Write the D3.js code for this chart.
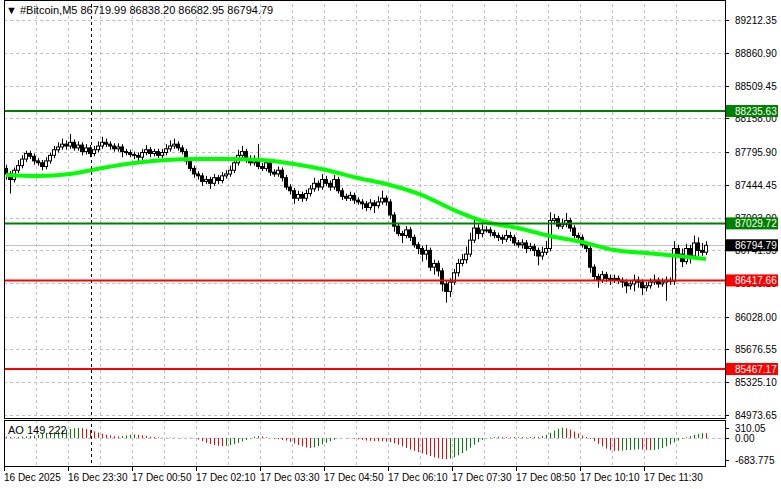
<!DOCTYPE html>
<html>
<head>
<meta charset="utf-8">
<script src="https://cdn.jsdelivr.net/npm/d3@7"></script>
<style>
  body { margin: 0; background: #fff; }
  text { font-family: "Liberation Sans", Arial, sans-serif; font-size: 10px; }
</style>
</head>
<body>
<svg width="781" height="489"></svg>
<script>
const width = 781,
  height = 489

// close prices, one per 5-minute candle (opens = previous close)
const closes = [
  87560, 87500, 87600, 87650, 87720, 87780, 87750, 87700,
  87680, 87640, 87700, 87760, 87820, 87850, 87880, 87860,
  87900, 87840, 87870, 87800, 87840, 87780, 87820, 87860,
  87900, 87880, 87860, 87830, 87850, 87800, 87790, 87770,
  87760, 87740, 87790, 87820, 87780, 87800, 87760, 87790,
  87830, 87860, 87880, 87840, 87800, 87700, 87620, 87560,
  87540, 87480, 87500, 87460, 87520, 87490, 87540, 87560,
  87600, 87680, 87760, 87800, 87720, 87680, 87700, 87640,
  87620, 87680, 87580, 87560, 87600, 87520, 87420, 87380,
  87300, 87340, 87300, 87350, 87400, 87460, 87420, 87500,
  87460, 87420, 87500, 87380, 87320, 87300, 87330, 87280,
  87260, 87240, 87200, 87250, 87220, 87260, 87300, 87260,
  87120, 87000, 86920, 86900, 86960, 86880, 86800, 86760,
  86700, 86740, 86560, 86600, 86520, 86380, 86300, 86400,
  86500, 86600, 86640, 86700, 86850, 86980, 86920, 86960,
  86960, 86930, 86900, 86880, 86860, 86900, 86880, 86820,
  86800, 86820, 86760, 86780, 86740, 86680, 86720, 86760,
  87060, 87080, 87000, 87020, 87060, 86980, 86900, 86880,
  86800, 86760, 86560, 86460, 86420, 86480, 86440, 86430,
  86440, 86420, 86400, 86360, 86380, 86420, 86400, 86340,
  86360, 86400, 86420, 86380, 86400, 86420, 86410, 86760,
  86700, 86620, 86760, 86680, 86820, 86740, 86719.99, 86794.79
]
const firstOpen = 87620
// wick lengths (price units above / below the body)
const upWicks = [
  40, 30, 30, 60, 40, 30, 30, 30, 30, 30, 40, 30, 40, 50, 60, 40,
  90, 30, 40, 30, 40, 30, 40, 50, 60, 40, 30, 30, 40, 30, 30, 30,
  30, 30, 40, 50, 30, 30, 30, 40, 50, 60, 60, 30, 30, 30, 30, 30,
  30, 30, 40, 30, 40, 30, 40, 40, 50, 60, 60, 60, 30, 40, 60, 180,
  40, 40, 30, 30, 40, 30, 30, 30, 30, 40, 30, 40, 40, 60, 30, 60,
  40, 30, 50, 30, 30, 30, 40, 30, 30, 30, 30, 40, 30, 60, 80, 30,
  30, 30, 30, 30, 40, 30, 30, 30, 30, 60, 30, 40, 30, 30, 30, 40,
  40, 50, 60, 80, 80, 100, 40, 60, 40, 30, 30, 30, 30, 60, 40, 30,
  30, 40, 30, 40, 30, 30, 60, 80, 90, 50, 30, 60, 80, 30, 30, 30,
  30, 30, 30, 30, 30, 40, 30, 40, 40, 30, 30, 30, 40, 60, 40, 30,
  40, 40, 60, 30, 40, 40, 30, 80, 40, 60, 50, 40, 80, 60, 80, 43.41
]
const downWicks = [
  60, 150, 30, 30, 30, 30, 30, 40, 30, 40, 30, 30, 30, 30, 30, 40,
  30, 30, 30, 40, 30, 40, 30, 30, 30, 30, 40, 30, 30, 60, 30, 30,
  40, 60, 30, 30, 40, 30, 30, 30, 30, 30, 30, 30, 30, 40, 30, 40,
  40, 50, 30, 60, 30, 40, 30, 30, 30, 30, 30, 40, 40, 30, 30, 30,
  30, 30, 40, 30, 30, 40, 30, 40, 60, 30, 40, 30, 30, 30, 40, 30,
  30, 40, 30, 30, 40, 30, 30, 40, 30, 60, 40, 30, 80, 30, 30, 40,
  40, 60, 30, 80, 30, 40, 30, 60, 80, 60, 40, 80, 60, 80, 120, 60,
  30, 40, 30, 40, 30, 30, 60, 40, 30, 40, 30, 40, 50, 30, 40, 30,
  30, 40, 50, 30, 60, 100, 40, 30, 30, 40, 30, 30, 30, 40, 30, 30,
  30, 40, 60, 40, 80, 30, 40, 60, 40, 40, 60, 80, 40, 80, 60, 80,
  40, 30, 30, 40, 30, 200, 40, 40, 40, 60, 30, 80, 30, 60, 37.04, 30
]
// moving average, sampled every 8 candles (last point = last candle)
const maIndex = [0, 8, 16, 24, 32, 40, 48, 56, 64, 72, 80, 88, 96, 104, 112, 120, 128, 136, 144, 152, 160, 168, 175]
const maValues = [87549, 87538, 87560, 87624, 87678, 87710, 87721, 87721, 87710, 87667, 87603, 87517, 87442, 87334, 87173, 87045, 86980, 86894, 86830, 86744, 86712, 86680, 86647]
// Awesome Oscillator
const aoValues = [
  40, 30, 20, 30, 40, 50, 60, 80, 100, 120, 140, 160, 180, 200, 230, 260,
  280, 300, 310, 300, 280, 250, 210, 170, 130, 100, 80, 60, 50, 60, 80, 100,
  110, 100, 80, 60, 40, 30, 20, 10, 10, 15, 10, 5, 10, 5, 10, -10,
  -50, -100, -150, -190, -220, -240, -250, -240, -220, -190, -150, -110, -60, -10, 40, 60,
  50, 20, 0, -20, -40, -60, -80, -120, -170, -220, -260, -290, -310, -290, -250, -200,
  -150, -100, -50, -10, 0, -5, -10, -20, -40, -60, -80, -90, -100, -100, -100, -110,
  -130, -170, -210, -260, -310, -360, -400, -440, -480, -520, -560, -600, -630, -650, -660, -640,
  -600, -540, -470, -390, -300, -210, -130, -60, -10, 20, 30, 40, 30, 30, 20, 30,
  20, 30, 20, 30, 40, 30, 60, 100, 160, 230, 290, 320, 300, 260, 200, 140,
  80, 30, -30, -100, -180, -260, -330, -380, -400, -400, -390, -380, -370, -360, -350, -360,
  -370, -375, -370, -350, -310, -260, -200, -140, -80, -20, 20, 60, 100, 130, 150, 149.222
]
const priceTicks = [89212.35, 88860.90, 88509.45, 88158.00, 87795.90, 87444.45, 87093.00, 86741.55, 86390.10, 86028.00, 85676.55, 85325.10, 84973.65]
const timeLabels = ["16 Dec 2025", "16 Dec 23:30", "17 Dec 00:50", "17 Dec 02:10", "17 Dec 03:30", "17 Dec 04:50", "17 Dec 06:10", "17 Dec 07:30", "17 Dec 08:50", "17 Dec 10:10", "17 Dec 11:30"]
const levels = [
  { price: 88235.63, color: "#008000" },
  { price: 87029.72, color: "#008000" },
  { price: 86417.66, color: "#ff0000" },
  { price: 85467.17, color: "#ff0000" }
]
const lastPrice = 86794.79
const aoLabels = [310.05, 0, -683.775]

const candles = closes.map((c, i) => {
  const o = i === 0 ? firstOpen : closes[i - 1]
  return { i, o, c, h: Math.max(o, c) + upWicks[i], l: Math.min(o, c) - downWicks[i] }
})

const pl = 4, pr = 725, pt = 4, mainBottom = 418, aoTop = 420, aoBottom = 466

const svg = d3.select("svg")
const x = d3.scaleLinear().domain([0, 1]).range([pl + 2, pl + 6])
const y = d3.scaleLinear().domain([84973.65, 89212.35]).range([415, 20])
const yAo = d3.scaleLinear().domain([-683.775, 310.05]).range([460, 428])
const snap = v => Math.round(v) + 0.5

// grid
const grid = svg.append("g").attr("stroke", "#c0c0c0").attr("stroke-dasharray", "3,3")
grid.selectAll(null).data(priceTicks).join("line")
  .attr("x1", pl).attr("x2", pr).attr("y1", d => snap(y(d))).attr("y2", d => snap(y(d)))
const vIdx = d3.range(8, 176, 8)
grid.selectAll(null).data(vIdx).join("line")
  .attr("x1", d => snap(x(d) - 2)).attr("x2", d => snap(x(d) - 2)).attr("y1", pt).attr("y2", mainBottom)
grid.selectAll(null).data(vIdx).join("line")
  .attr("x1", d => snap(x(d) - 2)).attr("x2", d => snap(x(d) - 2)).attr("y1", aoTop).attr("y2", aoBottom)
grid.append("line").attr("x1", pl).attr("x2", pr).attr("y1", snap(yAo(0))).attr("y2", snap(yAo(0)))

// last price line
svg.append("line").attr("x1", pl).attr("x2", pr)
  .attr("y1", snap(y(lastPrice))).attr("y2", snap(y(lastPrice))).attr("stroke", "#c0c0c0")

// candles
const cg = svg.append("g")
cg.selectAll("line").data(candles).join("line")
  .attr("x1", d => snap(x(d.i))).attr("x2", d => snap(x(d.i)))
  .attr("y1", d => y(d.h)).attr("y2", d => y(d.l)).attr("stroke", "#000")
cg.selectAll("rect").data(candles).join("rect")
  .attr("x", d => Math.round(x(d.i)) - 1.5).attr("width", 3)
  .attr("y", d => y(Math.max(d.o, d.c))).attr("height", d => Math.max(1, Math.abs(y(d.o) - y(d.c))))
  .attr("fill", d => d.c >= d.o ? "#fff" : "#000").attr("stroke", "#000").attr("stroke-width", 1)

// moving average
svg.append("path").datum(maIndex.map((d, k) => [d, maValues[k]]))
  .attr("d", d3.line().x(d => x(d[0])).y(d => y(d[1])).curve(d3.curveMonotoneX))
  .attr("fill", "none").attr("stroke", "#00ff00").attr("stroke-width", 4)

// levels
svg.selectAll(null).data(levels).join("line")
  .attr("x1", pl).attr("x2", pr).attr("y1", d => y(d.price)).attr("y2", d => y(d.price))
  .attr("stroke", d => d.color).attr("stroke-width", 2)

// AO bars
svg.append("g").selectAll("line").data(aoValues).join("line")
  .attr("x1", (d, i) => snap(x(i))).attr("x2", (d, i) => snap(x(i)))
  .attr("y1", yAo(0)).attr("y2", d => yAo(d))
  .attr("stroke", (d, i) => i > 0 && d > aoValues[i - 1] ? "#008000" : "#ff0000")

// cursor line
svg.append("line").attr("x1", 91.5).attr("x2", 91.5).attr("y1", pt).attr("y2", aoBottom)
  .attr("stroke", "#000").attr("stroke-dasharray", "3,3")

// frames
svg.append("rect").attr("x", pl + 0.5).attr("y", 0.5).attr("width", pr - pl).attr("height", mainBottom)
  .attr("fill", "none").attr("stroke", "#000")
svg.append("rect").attr("x", pl + 0.5).attr("y", aoTop + 0.5).attr("width", pr - pl).attr("height", aoBottom - aoTop)
  .attr("fill", "none").attr("stroke", "#000")

// price axis
const ax = svg.append("g")
ax.selectAll("line").data(priceTicks).join("line")
  .attr("x1", pr).attr("x2", pr + 4).attr("y1", d => snap(y(d))).attr("y2", d => snap(y(d))).attr("stroke", "#000")
ax.selectAll("text").data(priceTicks).join("text")
  .attr("x", pr + 10).attr("y", d => y(d) + 4).text(d => d.toFixed(2)).attr("fill", "#000")

function tag(price, bg) {
  const yy = y(price)
  svg.append("rect").attr("x", pr + 1).attr("y", yy - 6).attr("width", 52).attr("height", 12).attr("fill", bg)
  svg.append("text").attr("x", pr + 10).attr("y", yy + 4).attr("fill", "#fff").text(price.toFixed(2))
}
levels.forEach(d => tag(d.price, d.color))
tag(lastPrice, "#000")

// AO axis
svg.selectAll(null).data(aoLabels).join("text")
  .attr("x", pr + 10).attr("y", d => yAo(d) + 4).text(d => d === 0 ? "0.00" : String(d))
svg.selectAll(null).data(aoLabels).join("line")
  .attr("x1", pr).attr("x2", pr + 4).attr("y1", d => snap(yAo(d))).attr("y2", d => snap(yAo(d))).attr("stroke", "#000")

// time axis
const tIdx = timeLabels.map((d, k) => k * 16)
svg.selectAll(null).data(tIdx).join("line")
  .attr("x1", d => x(d) - 1.5).attr("x2", d => x(d) - 1.5).attr("y1", aoBottom).attr("y2", aoBottom + 5).attr("stroke", "#000")
svg.selectAll(null).data(timeLabels).join("text")
  .attr("x", (d, k) => x(tIdx[k]) - 2).attr("y", 481).text(d => d)

// headers
svg.append("text").attr("x", 6).attr("y", 14).style("font-size", "11px")
  .text("\u25BC #Bitcoin,M5  86719.99 86838.20 86682.95 86794.79")
svg.append("text").attr("x", 8).attr("y", 434).style("font-size", "11px").text("AO 149.222")
</script>
</body>
</html>
